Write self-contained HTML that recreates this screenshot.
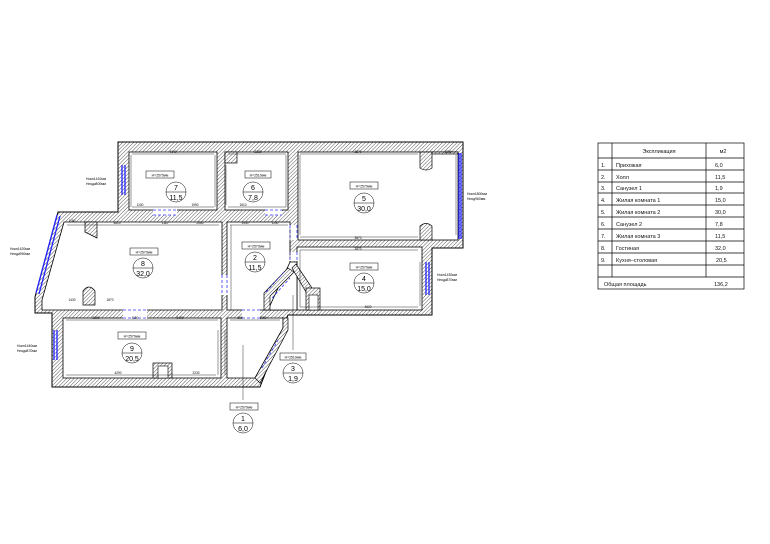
<!DOCTYPE html>
<html><head><meta charset="utf-8"><style>
html,body{margin:0;padding:0;background:#fff}
svg{display:block}
text{font-family:"Liberation Sans","DejaVu Sans",sans-serif}
</style></head><body>
<svg width="770" height="544" viewBox="0 0 770 544" xmlns="http://www.w3.org/2000/svg">
<defs>
<pattern id="h" width="2.6" height="2.6" patternUnits="userSpaceOnUse" patternTransform="rotate(45)">
<rect width="2.6" height="2.6" fill="#fff"/><line x1="0" y1="0" x2="0" y2="2.6" stroke="#333" stroke-width="0.8"/>
</pattern>
</defs>
<polygon points="118,142 463,142 463,248 432,248 432,315 288,315 260,387 52,387 52,313 35,313 35,297 58,212 118,212" fill="url(#h)" stroke="#000" stroke-width="1"/>
<g fill="#fff" stroke="#000" stroke-width="0.8">
<rect x="129" y="152" width="88" height="58"/>
<rect x="225" y="152" width="63" height="58"/>
<rect x="298" y="152" width="160" height="88"/>
<polygon points="64,222 222,222 222,310 42,310 42,300"/>
<rect x="227" y="222" width="63" height="88"/>
<rect x="297" y="247" width="125" height="63"/>
<rect x="63" y="318" width="158" height="60"/>
<polygon points="227,318 283,318 283,328 255,378 227,378"/>
<polygon points="290,262 297,262 297,310 268,310"/>
</g>
<g fill="url(#h)" stroke="#000" stroke-width="0.7">
<rect x="225" y="152" width="12" height="11"/>
<path d="M420,152 h12 v16 q-6,4 -12,0 z"/>
<path d="M420,240 h12 v-14 q-6,-5 -12,0 z"/>
<rect x="432" y="152" width="26" height="2"/>
<polygon points="85,222 97,222 97,238 85,232"/>
<path d="M83,305 v-14 q6,-8 12,0 v14 z"/>
<rect x="153" y="363" width="19" height="15"/>
<polygon points="288,268 294,272 270,296 270,310 264,310 264,293"/>
<polygon points="292,268 296,264 312,288 306,292"/>
<rect x="306" y="288" width="14" height="22"/>
<polygon points="283,318 288,318 288,330 260,383 255,378 283,328"/>
</g>
<rect x="158" y="366" width="10" height="12" fill="#fff" stroke="#000" stroke-width="0.6"/>
<rect x="309" y="295" width="9" height="15" fill="#fff" stroke="#000" stroke-width="0.6"/>
<g fill="#fff" stroke="none">
<rect x="153" y="209.5" width="24" height="6"/><rect x="265" y="209.5" width="17" height="6"/>
<rect x="123" y="309.5" width="24" height="9"/><rect x="242" y="309.5" width="18" height="9"/>
<rect x="221.5" y="275" width="6" height="20"/><rect x="289.5" y="225" width="8" height="15"/>
<rect x="289.5" y="252" width="8" height="9"/>
</g>
<g stroke="#33f" stroke-width="0.8" stroke-dasharray="3,2" fill="none">
<path d="M153,210h24M153,215h24M265,210h17M265,215h17M123,310h24M123,318h24M242,310h18M242,318h18M222,275v20M227,275v20M290,225v15M297,225v15M290,252v9M297,252v9M266,292l18,-20M272,298l18,-20M262,368l16,-28"/>
</g>
<g stroke="#22f" stroke-width="1.3" fill="none">
<path d="M122,165v30M125,165v30M57,215l-21,78M60,216l-21,78M54,330v30M57,330v30M426,262v33M429,262v33M459,153v86M461,153v86"/>
</g>
<g stroke="#000" stroke-width="0.4" fill="none">
<path d="M132,154h82M228,154h58M300,154h118M132,207h82M228,207h58M300,237h118M67,225h152M230,225h58M300,250h118M66,320h152M230,320h50M66,375h150M300,307h118M131,155v52M215,155v52M226,165v40M286,155v52M300,155v80M456,155v80M300,250v57M420,262v44M225,330v45M218,330v45M290,228v30M231,225v85"/>
<path d="M243,345v55M293,295v55"/>
</g>
<g font-size="3.2" fill="#000" text-anchor="middle">
<text x="173" y="153">4140</text><text x="258" y="153">2230</text><text x="358" y="153">3870</text><text x="448" y="153">1230</text>
<text x="140" y="206">1100</text><text x="195" y="206">1990</text><text x="243" y="206">1610</text>
<text x="72" y="222">1160</text><text x="117" y="224">3610</text><text x="165" y="224">1110</text><text x="200" y="224">2060</text>
<text x="245" y="224">1930</text><text x="275" y="224">1130</text><text x="358" y="239">3870</text><text x="358" y="250">3870</text>
<text x="96" y="319">2290</text><text x="135" y="319">1150</text><text x="180" y="319">3400</text>
<text x="118" y="374">4290</text><text x="196" y="374">2230</text><text x="240" y="319">600</text><text x="263" y="319">1050</text>
<text x="368" y="308">4620</text><text x="72" y="301">1430</text><text x="110" y="301">1870</text>
</g>
<g font-size="3.4" fill="#000">
<text x="86" y="180">Нокн1410мм</text><text x="86" y="185">Нподк800мм</text>
<text x="10" y="250">Нокн1420мм</text><text x="10" y="255">Нподк950мм</text>
<text x="17" y="347">Нокн1440мм</text><text x="17" y="352">Нподк870мм</text>
<text x="437" y="276">Нокн1430мм</text><text x="437" y="281">Нподк870мм</text>
<text x="467" y="195">Нокн1800мм</text><text x="467" y="200">Нпод960мм</text>
</g>
<g font-size="3.4" text-anchor="middle" fill="#000">
<g stroke="#000" stroke-width="0.5" fill="#fff">
<rect x="146" y="171" width="28" height="7"/><rect x="245" y="171" width="26" height="7"/>
<rect x="350" y="182" width="28" height="7"/><rect x="130" y="248" width="28" height="7"/>
<rect x="242" y="242" width="28" height="7"/><rect x="350" y="263" width="28" height="7"/>
<rect x="118" y="332" width="28" height="7"/><rect x="280" y="353" width="26" height="7"/>
<rect x="230" y="403" width="28" height="7"/>
<circle cx="176" cy="192" r="10"/><circle cx="253" cy="192" r="10"/><circle cx="364" cy="203" r="10"/>
<circle cx="143" cy="268" r="10"/><circle cx="255" cy="262" r="10"/><circle cx="364" cy="283" r="10"/>
<circle cx="132" cy="353" r="10"/><circle cx="293" cy="373" r="10"/><circle cx="243" cy="423" r="10"/>
</g>
<text x="160" y="176.5">Н=2570мм</text><text x="258" y="176.5">Н=2510мм</text><text x="364" y="187.5">Н=2570мм</text>
<text x="144" y="253.5">Н=2570мм</text><text x="256" y="247.5">Н=2570мм</text><text x="364" y="268.5">Н=2570мм</text>
<text x="132" y="337.5">Н=2570мм</text><text x="293" y="358.5">Н=2510мм</text><text x="244" y="408.5">Н=2570мм</text>
</g>
<g stroke="#000" stroke-width="0.5">
<path d="M166,192h20M243,192h20M354,203h20M133,268h20M245,262h20M354,283h20M122,353h20M283,373h20M233,423h20"/>
</g>
<g font-size="7" text-anchor="middle" fill="#000">
<text x="176" y="190">7</text><text x="176" y="200">11,5</text>
<text x="253" y="190">6</text><text x="253" y="200">7,8</text>
<text x="364" y="201">5</text><text x="364" y="211">30,0</text>
<text x="143" y="266">8</text><text x="143" y="276">32,0</text>
<text x="255" y="260">2</text><text x="255" y="270">11,5</text>
<text x="364" y="281">4</text><text x="364" y="291">15,0</text>
<text x="132" y="351">9</text><text x="132" y="361">20,5</text>
<text x="293" y="371">3</text><text x="293" y="381">1,9</text>
<text x="243" y="421">1</text><text x="243" y="431">6,0</text>
</g>
<g stroke="#000" stroke-width="0.7" fill="none">
<rect x="598" y="143" width="146" height="146"/>
<path d="M598,158h146M598,170h146M598,182h146M598,193h146M598,205h146M598,217h146M598,229h146M598,241h146M598,253h146M598,265h146M598,277h146M612,143v134M706,143v134"/>
</g>
<g font-size="5.5" fill="#111">
<text x="659" y="153" text-anchor="middle">Экспликация</text><text x="723" y="153" text-anchor="middle">м2</text>
<text x="601" y="167">1.</text><text x="616" y="167">Прихожая</text><text x="715" y="167">6,0</text>
<text x="601" y="179">2.</text><text x="616" y="179">Холл</text><text x="715" y="179">11,5</text>
<text x="601" y="190">3.</text><text x="616" y="190">Санузел 1</text><text x="715" y="190">1,9</text>
<text x="601" y="202">4.</text><text x="616" y="202">Жилая комната 1</text><text x="715" y="202">15,0</text>
<text x="601" y="214">5.</text><text x="616" y="214">Жилая комната 2</text><text x="715" y="214">30,0</text>
<text x="601" y="226">6.</text><text x="616" y="226">Санузел 2</text><text x="715" y="226">7,8</text>
<text x="601" y="238">7.</text><text x="616" y="238">Жилая комната 3</text><text x="715" y="238">11,5</text>
<text x="601" y="250">8.</text><text x="616" y="250">Гостиная</text><text x="715" y="250">32,0</text>
<text x="601" y="262">9.</text><text x="616" y="262">Кухня–столовая</text><text x="716" y="262">20,5</text>
<text x="604" y="286">Общая площадь</text><text x="714" y="286">136,2</text>
</g>
</svg>
</body></html>
